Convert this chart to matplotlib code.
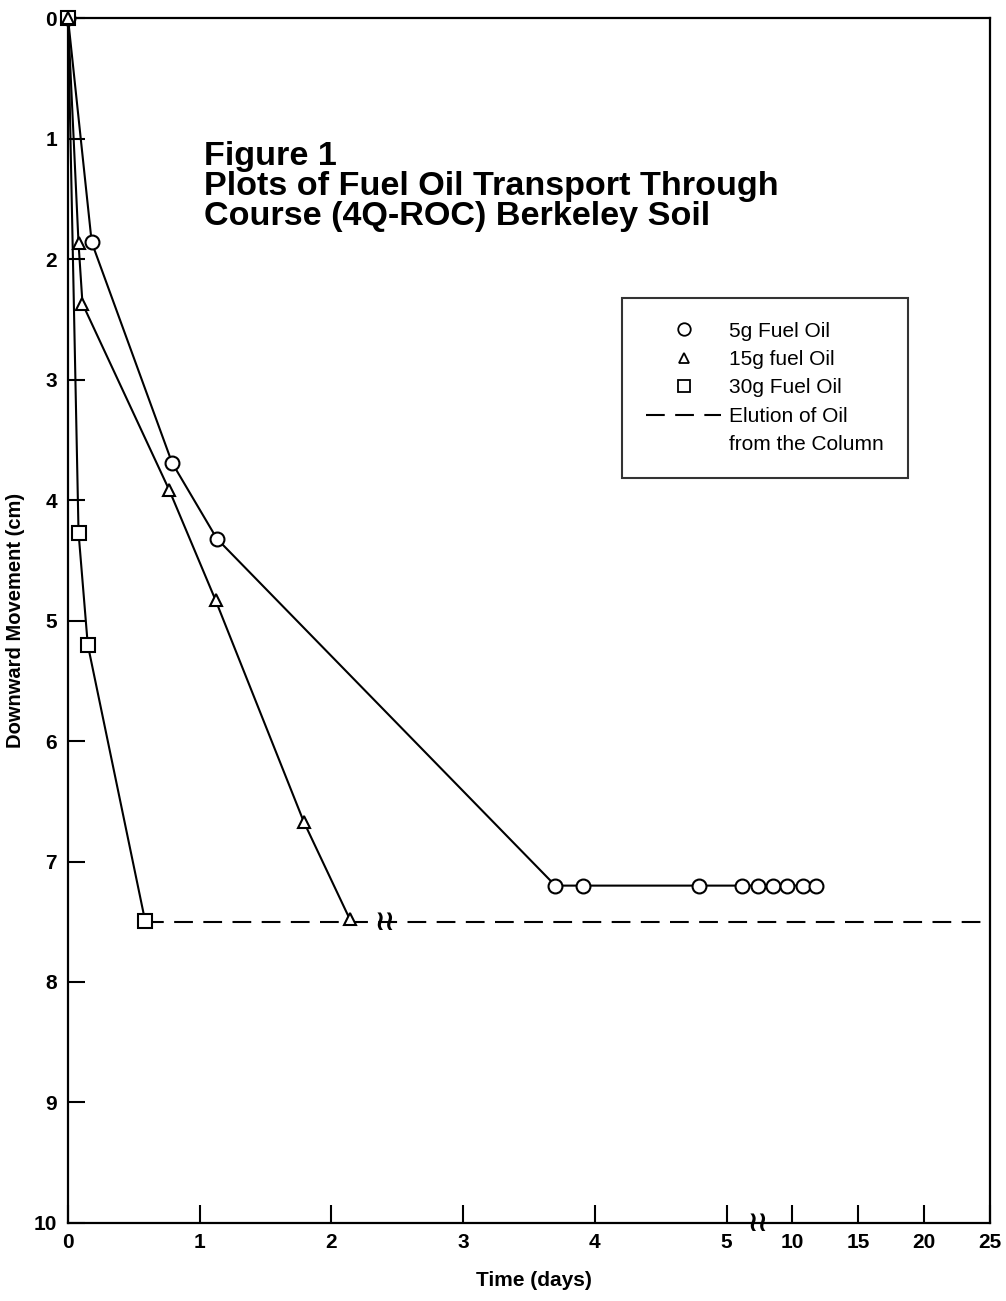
import matplotlib
matplotlib.use('Agg')
import matplotlib.pyplot as plt
from matplotlib.lines import Line2D
import numpy as np

plt.rcParams['font.family'] = ['Liberation Sans', 'DejaVu Sans']

# data (days, cm)
days_5g = [0, 0.18, 0.79, 1.13, 3.70, 3.91, 4.79, 6.2, 7.35, 8.5, 9.6, 10.8, 11.8]
move_5g = [0, 1.86, 3.69, 4.32, 7.2, 7.2, 7.2, 7.2, 7.2, 7.2, 7.2, 7.2, 7.2]
days_15g = [0, 0.08, 0.11, 0.77, 1.12, 1.79, 2.14]
move_15g = [0, 1.87, 2.37, 3.92, 4.83, 6.67, 7.48]
days_30g = [0, 0.08, 0.15, 0.585]
move_30g = [0, 4.27, 5.2, 7.49]
elution_days = [0.585, 25]
elution_depth = [7.5, 7.5]

xticks = [0, 1, 2, 3, 4, 5, 10, 15, 20, 25]
yticks = list(range(0, 11))

# broken time axis: 0-5 days at full scale, beyond that compressed
def fwd(x):
    x = np.asarray(x, dtype=float)
    return np.where(x <= 5, x, 5 + (x - 5) * 0.1)

def inv(u):
    u = np.asarray(u, dtype=float)
    return np.where(u <= 5, u, 5 + (u - 5) / 0.1)

fig = plt.figure(figsize=(10.06, 13.01), dpi=100)
ax = fig.add_axes([0.0676, 0.06, 0.9165, 0.926])
ax.set_xscale('function', functions=(fwd, inv))

lw = 1.5
ax.plot(elution_days, elution_depth, color='black', lw=lw, linestyle=(0, (9, 5)), zorder=1)
ax.plot(days_5g, move_5g, color='black', lw=lw, marker='o', ms=10, mfc='white', mec='black',
        mew=1.5, clip_on=False, zorder=3)
ax.plot(days_30g, move_30g, color='black', lw=lw, marker='s', ms=10, mfc='white', mec='black',
        mew=1.5, clip_on=False, zorder=3)
ax.plot(days_15g, move_15g, color='black', lw=lw, marker='^', ms=9, mfc='white', mec='black',
        mew=1.5, clip_on=False, zorder=4)

ax.set_xlim(0, 25)
ax.set_ylim(10, 0)
ax.set_xticks(xticks)
ax.set_xticklabels([str(t) for t in xticks], fontweight='bold', fontsize=15)
ax.set_yticks(yticks)
ax.set_yticklabels([str(t) for t in yticks], fontweight='bold', fontsize=15)
ax.tick_params(axis='x', direction='in', length=13, width=1.5, pad=7)
ax.tick_params(axis='y', direction='in', length=12, width=1.5, pad=8)
for s in ax.spines.values():
    s.set_linewidth(1.6)

ax.set_xlabel('Time (days)', fontweight='bold', fontsize=15)
ax.xaxis.set_label_coords(0.505, -0.04)
ax.set_ylabel('Downward Movement (cm)', fontweight='bold', fontsize=14.5)
ax.yaxis.set_label_coords(-0.047, 0.5)

# axis break marks
ax.text(7.4, 10, '\u2240\u2240', family='DejaVu Sans', fontsize=20, fontweight='bold',
        ha='center', va='center', clip_on=False, zorder=5)
ax.text(2.41, 7.5, '\u2240\u2240', family='DejaVu Sans', fontsize=20, fontweight='bold',
        ha='center', va='center', zorder=5)

ax.text(0.1475, 0.898, 'Figure 1\nPlots of Fuel Oil Transport Through\nCourse (4Q-ROC) Berkeley Soil',
        transform=ax.transAxes, fontsize=24.6, fontweight='bold', va='top', ha='left', linespacing=0.95)

handles = [
    Line2D([], [], linestyle='none', marker='o', ms=9, mfc='white', mec='black', mew=1.3),
    Line2D([], [], linestyle='none', marker='^', ms=7, mfc='white', mec='black', mew=1.3),
    Line2D([], [], linestyle='none', marker='s', ms=9, mfc='white', mec='black', mew=1.3),
    Line2D([], [], color='black', lw=1.5, linestyle=(0, (9, 5))),
    Line2D([], [], linestyle='none'),
]
labels = ['5g Fuel Oil', '15g fuel Oil', '30g Fuel Oil', 'Elution of Oil', 'from the Column']
leg = ax.legend(handles, labels, loc='upper left', bbox_to_anchor=(0.601, 0.768),
                borderaxespad=0, fontsize=15, handlelength=3.6, handletextpad=0.4,
                labelspacing=0.45, borderpad=1.15, fancybox=False, frameon=True)
leg.get_frame().set_edgecolor('black')
leg.get_frame().set_linewidth(1.5)

fig.savefig('out.png', dpi=100)
